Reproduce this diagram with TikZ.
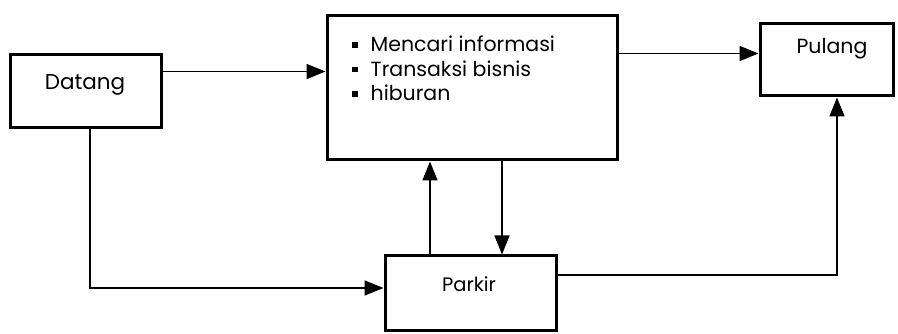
\documentclass[tikz,border=0pt]{standalone}
\usepackage{fontspec}
\setmainfont{Poppins}
\usetikzlibrary{arrows.meta}
\tikzset{
  box/.style={draw, line width=3pt, inner sep=0pt, anchor=center},
  conn/.style={line width=1.6pt},
  arr/.style={conn, -{Triangle[length=19pt,width=15pt]}},
  lbl/.style={font=\fontsize{20.5}{24}\selectfont, inner sep=0pt},
  item/.style={lbl, anchor=base west},
}
\newcommand{\sqbullet}{\raisebox{4pt}{\rule{5.5pt}{5.5pt}}\hspace{13pt}}
\begin{document}
\begin{tikzpicture}[x=1pt,y=1pt]
\useasboundingbox (0,0) rectangle (898,-334);

% boxes
\node[box, minimum width=151pt, minimum height=73pt] (datang) at (85.5,-91.5) {};
\node[box, minimum width=290pt, minimum height=144pt] (info) at (472,-88) {};
\node[box, minimum width=133pt, minimum height=72pt] (pulang) at (826.5,-60) {};
\node[box, minimum width=171pt, minimum height=74pt] (parkir) at (470.5,-293) {};

% labels
\node[lbl, font=\fontsize{21.5}{24}\selectfont] (tdatang) at (85,-85) {Datang};
\node[lbl] (tpulang) at (832,-49) {Pulang};
\node[lbl, font=\fontsize{19.5}{24}\selectfont] (tparkir) at (469,-284) {Parkir};
\node[item] (item1) at (352,-52) {\sqbullet Mencari informasi};
\node[item] (item2) at (352,-76.5) {\sqbullet Transaksi bisnis};
\node[item] (item3) at (352,-101) {\sqbullet hiburan};

% connectors
\coordinate (c1) at ([yshift=-18pt]datang.north east);
\draw[arr] (c1) -- (c1 -| info.west);

\coordinate (c2) at ([yshift=-31pt]pulang.north west);
\draw[arr] (c2 -| info.east) -- (c2);

\coordinate (c3) at ([xshift=4.5pt]datang.south);
\coordinate (c4) at ([yshift=5pt]parkir.west);
\draw[arr] (c3) |- (c4);

\coordinate (c5) at ([xshift=-40.5pt]parkir.north);
\draw[arr] (c5) -- (c5 |- info.south);

\coordinate (c6) at ([xshift=30pt]info.south);
\draw[arr] (c6) -- (c6 |- parkir.north);

\coordinate (c7) at ([yshift=18pt]parkir.east);
\coordinate (c8) at ([xshift=10.5pt]pulang.south);
\draw[arr] (c7) -| (c8);
\end{tikzpicture}
\end{document}
